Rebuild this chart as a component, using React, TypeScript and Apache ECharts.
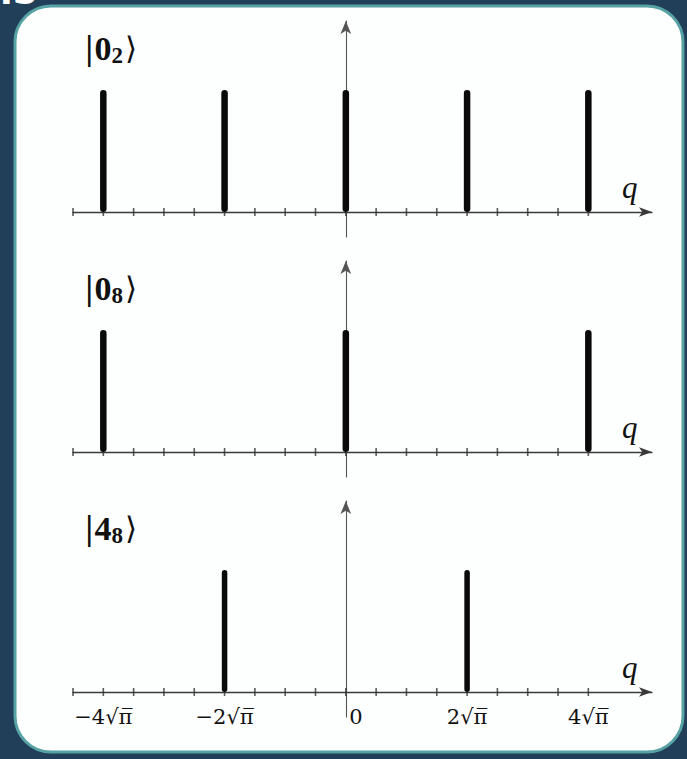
import React, { useEffect, useRef } from "react";
import * as echarts from "echarts";

// Positions along q, in units of sqrt(pi)/2
const stems02 = [-8, -4, 0, 4, 8];
const stems08 = [-8, 0, 8];
const stems48 = [-4, 4];
const stemHeight = 1;
const tickValues = [-9, -8, -7, -6, -5, -4, -3, -2, -1, 0, 1, 2, 3, 4, 5, 6, 7, 8];
const labelValues = [-8, -4, 0, 4, 8];
const labelTexts = ["−4√π\u0305", "−2√π\u0305", "0", "2√π\u0305", "4√π\u0305"];
const stateNames = [
  { n: "0", s: "2" },
  { n: "0", s: "8" },
  { n: "4", s: "8" },
];

const SERIF = "'Liberation Serif', 'DejaVu Serif', serif";
const WIDE_SERIF = "'DejaVu Serif', serif";

export default function App() {
  const ref = useRef<HTMLDivElement>(null);

  useEffect(() => {
    if (!ref.current) return;
    const chart = echarts.init(ref.current, null, { renderer: "svg" });

    const panels = [stems02, stems08, stems48];
    const axisY = [212, 452, 692];
    const yMin = -0.205;
    const yMax = 1.565;
    const pxPerUnit = 122;
    const gridH = (yMax - yMin) * pxPerUnit;
    const stemWidths = [6.5, 6.5, 5.5];

    const grids = axisY.map((ay) => ({
      left: 73,
      right: 35,
      top: ay - yMax * pxPerUnit,
      height: gridH,
    }));

    const labelStyle = {
      fontFamily: WIDE_SERIF,
      fontSize: 21,
      color: "#111",
      lineHeight: 26,
    };

    const xAxes = axisY.map((_, i) => ({
      type: "value",
      gridIndex: i,
      min: -9,
      max: 10.1,
      splitLine: { show: false },
      axisTick: { show: false },
      axisLine: {
        show: true,
        onZero: true,
        symbol: ["none", "arrow"],
        symbolSize: [7, 13],
        lineStyle: { color: "#3a3a3a", width: 1.3 },
      },
      axisLabel:
        i === 2
          ? {
              show: true,
              customValues: labelValues,
              margin: -13,
              color: "#111",
              fontFamily: WIDE_SERIF,
              fontSize: 21,
              formatter: (v: number) => {
                const idx = labelValues.indexOf(v);
                const t = idx >= 0 ? labelTexts[idx] : "";
                return v === 0 ? "{o|" + t + "}" : "{t|" + t + "}";
              },
              rich: {
                t: { ...labelStyle },
                o: { ...labelStyle, padding: [0, 0, 0, 20] },
              },
            }
          : { show: false },
    }));

    const yAxes = axisY.map((_, i) => ({
      type: "value",
      gridIndex: i,
      min: yMin,
      max: yMax,
      splitLine: { show: false },
      axisTick: { show: false },
      axisLabel: { show: false },
      axisLine: {
        show: true,
        onZero: true,
        symbol: ["none", "arrow"],
        symbolSize: [8, 13],
        lineStyle: { color: "#555", width: 1.1 },
      },
    }));

    const series: any[] = [];
    panels.forEach((stems, i) => {
      series.push({
        type: "scatter",
        xAxisIndex: i,
        yAxisIndex: i,
        symbol: "rect",
        symbolSize: [1.6, 8],
        itemStyle: { color: "#333" },
        silent: true,
        z: 2,
        data: tickValues.map((v) => [v, 0]),
      });
      series.push({
        type: "bar",
        xAxisIndex: i,
        yAxisIndex: i,
        barWidth: stemWidths[i],
        itemStyle: { color: "#0a0a0a", borderRadius: stemWidths[i] / 2 },
        z: 3,
        data: stems.map((v) => [v, stemHeight]),
      });
    });

    const graphics: any[] = [
      {
        type: "rect",
        z: -20,
        shape: { x: 0, y: 0, width: 687, height: 759 },
        style: { fill: "#213f58" },
      },
      {
        type: "rect",
        z: -19,
        shape: { x: 15, y: 6, width: 668, height: 746, r: 36 },
        style: { fill: "#fdfefe", stroke: "#57a2a4", lineWidth: 3 },
      },
      {
        type: "text",
        z: -18,
        x: 0,
        y: 9,
        style: {
          text: "IS",
          fill: "#ffffff",
          font: "bold 34px 'DejaVu Sans', sans-serif",
          verticalAlign: "bottom",
        },
      },
    ];

    axisY.forEach((ay, i) => {
      const nm = stateNames[i];
      graphics.push({
        type: "text",
        x: 84,
        y: ay - 164,
        style: {
          text: "{b||}{n|" + nm.n + "}{s|" + nm.s + "}{b|⟩}",
          verticalAlign: "middle",
          rich: {
            b: {
              fontFamily: WIDE_SERIF,
              fontSize: 31,
              fill: "#111",
              lineHeight: 38,
              verticalAlign: "middle",
            },
            n: {
              fontFamily: SERIF,
              fontWeight: "bold",
              fontSize: 34,
              fill: "#111",
              lineHeight: 38,
              verticalAlign: "middle",
            },
            s: {
              fontFamily: SERIF,
              fontWeight: "bold",
              fontSize: 23,
              fill: "#111",
              lineHeight: 38,
              verticalAlign: "bottom",
              padding: [0, 2, 0, 0],
            },
          },
        },
      });
      graphics.push({
        type: "text",
        x: 622,
        y: ay - 25,
        style: {
          text: "q",
          fill: "#111",
          fontFamily: SERIF,
          fontStyle: "italic",
          fontSize: 31,
          verticalAlign: "middle",
        },
      });
    });

    chart.setOption({
      animation: false,
      backgroundColor: "#213f58",
      grid: grids,
      xAxis: xAxes,
      yAxis: yAxes,
      series,
      graphic: { elements: graphics },
    });

    return () => chart.dispose();
  }, []);

  return (
    <div
      ref={ref}
      style={{ position: "fixed", left: 0, top: 0, width: 687, height: 759 }}
    />
  );
}
